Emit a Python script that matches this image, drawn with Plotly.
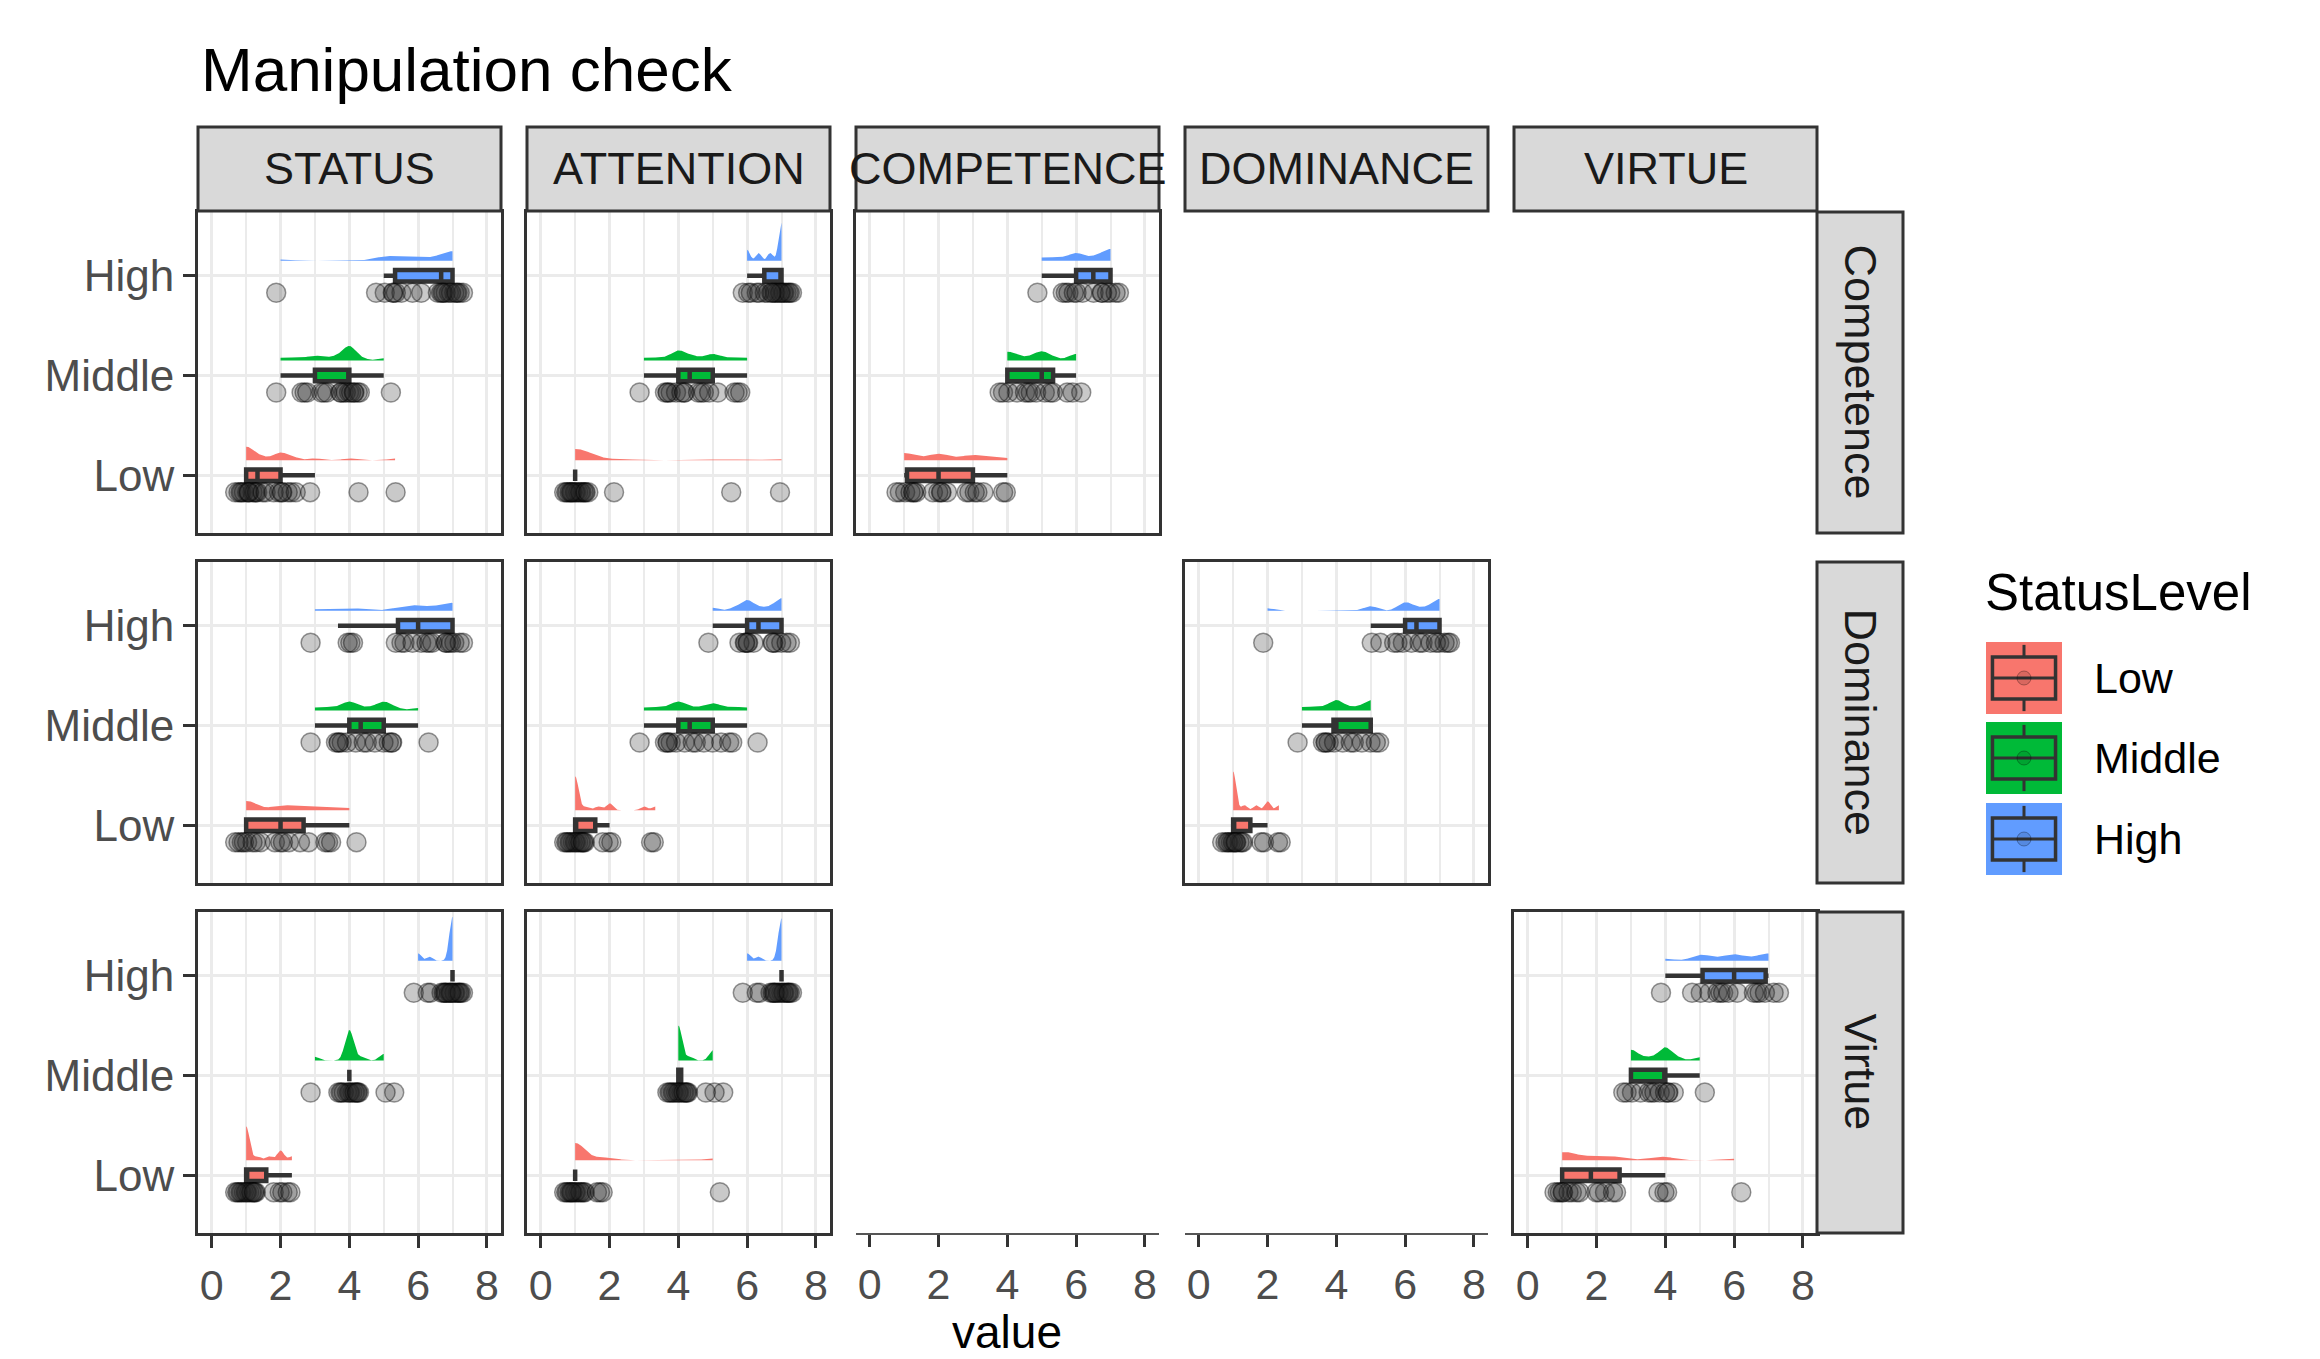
import numpy as np
import plotly.graph_objects as go

# ---------------- data ----------------
measures = ["STATUS", "ATTENTION", "COMPETENCE", "DOMINANCE", "VIRTUE"]
conditions = ["Competence", "Dominance", "Virtue"]
levels = ["Low", "Middle", "High"]
level_colors = ["#F8766D", "#00BA38", "#619CFF"]
x_ticks = [0, 2, 4, 6, 8]
x_minor = [1, 3, 5, 7]

competence_status_low = [1, 1, 1, 1, 1, 1, 1, 1, 1, 1, 1.33, 1.33, 1.33, 1.67, 2, 2, 2, 2, 2, 2.33, 2.33, 3, 4, 5.33]
competence_status_middle = [2, 2.33, 2.67, 3, 3, 3.33, 3.67, 3.67, 4, 4, 4, 4, 4, 4, 4, 4, 4.33, 5]
competence_status_high = [2, 5, 5, 5, 5.33, 5.33, 5.67, 6, 6, 6.33, 6.67, 7, 7, 7, 7, 7, 7, 7, 7, 7, 7]

competence_attention_low = [1, 1, 1, 1, 1, 1, 1, 1, 1, 1, 1, 1, 1, 1, 1, 1.33, 2.33, 5.33, 7]
competence_attention_middle = [3, 3.33, 3.67, 4, 4, 4, 4, 4, 4.33, 4.33, 4.67, 5, 5, 5, 5.33, 5.67, 6]
competence_attention_high = [6, 6, 6, 6.33, 6.33, 6.67, 6.67, 7, 7, 7, 7, 7, 7, 7, 7, 7, 7, 7, 7, 7]

competence_competence_low = [1, 1, 1, 1, 1, 1.33, 1.67, 2, 2, 2, 2, 2.33, 2.67, 3, 3, 3, 3.33, 3.67, 4]
competence_competence_middle = [4, 4, 4, 4, 4.33, 4.67, 5, 5, 5, 5, 5.33, 6, 6, 6]
competence_competence_high = [5, 5.33, 5.67, 6, 6, 6, 6.33, 6.67, 6.67, 7, 7, 7, 7, 7]

dominance_status_low = [1, 1, 1, 1, 1, 1, 1, 1.33, 2, 2, 2, 2.33, 2.67, 2.67, 3, 3.33, 3.67, 4]
dominance_status_middle = [3, 3.33, 3.67, 4, 4, 4, 4, 4.33, 4.67, 5, 5, 5, 5, 5.33, 6]
dominance_status_high = [3, 3.67, 4, 4.33, 5.33, 5.67, 5.67, 6, 6, 6, 6.33, 6.67, 6.67, 7, 7, 7, 7, 7, 7]

dominance_attention_low = [1, 1, 1, 1, 1, 1, 1, 1, 1, 1, 1, 1, 1, 1.33, 1.67, 2, 2, 3, 3.33]
dominance_attention_middle = [3, 3.33, 3.67, 4, 4, 4, 4, 4.33, 4.67, 5, 5, 5, 5.33, 5.67, 6]
dominance_attention_high = [5, 5.67, 6, 6, 6, 6, 6.33, 6.67, 7, 7, 7, 7, 7]

dominance_dominance_low = [1, 1, 1, 1, 1, 1, 1, 1, 1, 1, 1, 1.33, 1.67, 2, 2, 2.33]
dominance_dominance_middle = [3, 3.33, 3.67, 4, 4, 4, 4, 4.33, 4.67, 5, 5, 5, 5]
dominance_dominance_high = [2, 5, 5, 6, 6, 6, 6, 6.33, 6.67, 7, 7, 7, 7, 7, 7]

virtue_status_low = [1, 1, 1, 1, 1, 1, 1, 1, 1, 1, 1, 1, 1, 1.33, 1.67, 2, 2, 2, 2.33]
virtue_status_middle = [3, 4, 4, 4, 4, 4, 4, 4, 4, 4, 4, 4, 4, 4.33, 5, 5]
virtue_status_high = [6, 6, 6.33, 7, 7, 7, 7, 7, 7, 7, 7, 7, 7, 7, 7, 7, 7, 7, 7]

virtue_attention_low = [1, 1, 1, 1, 1, 1, 1, 1, 1, 1, 1, 1, 1, 1, 1.33, 1.67, 2, 5]
virtue_attention_middle = [4, 4, 4, 4, 4, 4, 4, 4, 4, 4, 4, 4, 4, 4.33, 5, 5, 5]
virtue_attention_high = [6, 6, 6.33, 7, 7, 7, 7, 7, 7, 7, 7, 7, 7, 7, 7, 7, 7, 7]

virtue_virtue_low = [1, 1, 1, 1, 1, 1, 1.33, 1.33, 1.67, 2, 2, 2.33, 2.33, 2.67, 3.67, 4, 4, 6]
virtue_virtue_middle = [3, 3, 3, 3, 3.33, 3.67, 4, 4, 4, 4, 4, 4.33, 5]
virtue_virtue_high = [4, 5, 5, 5, 5.33, 5.67, 6, 6, 6, 6.33, 6.67, 7, 7, 7, 7]

panel_data = {
    ("Competence", "STATUS"): [competence_status_low, competence_status_middle, competence_status_high],
    ("Competence", "ATTENTION"): [competence_attention_low, competence_attention_middle, competence_attention_high],
    ("Competence", "COMPETENCE"): [competence_competence_low, competence_competence_middle, competence_competence_high],
    ("Dominance", "STATUS"): [dominance_status_low, dominance_status_middle, dominance_status_high],
    ("Dominance", "ATTENTION"): [dominance_attention_low, dominance_attention_middle, dominance_attention_high],
    ("Dominance", "DOMINANCE"): [dominance_dominance_low, dominance_dominance_middle, dominance_dominance_high],
    ("Virtue", "STATUS"): [virtue_status_low, virtue_status_middle, virtue_status_high],
    ("Virtue", "ATTENTION"): [virtue_attention_low, virtue_attention_middle, virtue_attention_high],
    ("Virtue", "VIRTUE"): [virtue_virtue_low, virtue_virtue_middle, virtue_virtue_high],
}

# ---------------- layout constants ----------------
W, H = 2320, 1359
OFF = 8                       # page body margin of the html page
FW, FH = W - OFF, H - OFF     # figure size so the page does not overflow
COL_X0 = [198, 527, 856, 1185, 1514]
PANEL_W = 303
ROW_Y0 = [212, 562, 912]
PANEL_H = 321
STRIP_TOP = (127, 211)
RSTRIP_X = (1817, 1903)
XR = [-0.4, 8.41]
YR = [0.42, 3.64]
DENS_OFF = 0.15
PT_OFF = -0.17
BOX_W = 0.115
DENS_MAX_H = 0.44
DENS_POW = 0.85
ADJUST = 0.5
JIT = 0.33
FONT = "Liberation Sans, Arial, sans-serif"
DARK = "#333333"


def px(x):
    return (x - OFF) / FW


def py(y):
    return 1 - (y - OFF) / FH


def bw_nrd0(x):
    x = np.asarray(x, float)
    hi = np.std(x, ddof=1)
    q75, q25 = np.percentile(x, [75, 25])
    lo = min(hi, (q75 - q25) / 1.34)
    if not lo:
        lo = hi or abs(x[0]) or 1.0
    return 0.9 * lo * len(x) ** -0.2


def kde(x, grid):
    x = np.asarray(x, float)
    bw = ADJUST * bw_nrd0(x)
    d = (grid[:, None] - x[None, :]) / bw
    return np.exp(-0.5 * d ** 2).sum(1) / (len(x) * bw * np.sqrt(2 * np.pi))


# densities (global normalisation)
dens = {}
gmax = 0
for key, groups in panel_data.items():
    for li, vals in enumerate(groups):
        grid = np.linspace(min(vals), max(vals), 500)
        d = kde(vals, grid) ** DENS_POW
        dens[(key, li)] = (grid, d)
        gmax = max(gmax, d.max())

fig = go.Figure()
layout_axes = {}

for r, cond in enumerate(conditions):
    for c, meas in enumerate(measures):
        k = r * 5 + c + 1
        xn = "x" if k == 1 else f"x{k}"
        yn = "y" if k == 1 else f"y{k}"
        xa = "xaxis" if k == 1 else f"xaxis{k}"
        ya = "yaxis" if k == 1 else f"yaxis{k}"
        has = (cond, meas) in panel_data
        bottom = r == 2
        xd = [px(COL_X0[c]), px(COL_X0[c] + PANEL_W)]
        yd = [py(ROW_Y0[r] + PANEL_H), py(ROW_Y0[r])]
        layout_axes[xa] = dict(
            domain=xd, anchor=yn, range=XR, visible=has or bottom,
            tickmode="array", tickvals=x_ticks, ticktext=[str(t) for t in x_ticks],
            showticklabels=bottom, ticks="outside" if bottom else "",
            ticklen=12, tickwidth=3, tickcolor=DARK,
            tickfont=dict(family=FONT, size=43, color="#4d4d4d"),
            showgrid=has, gridcolor="#ebebeb", gridwidth=3,
            minor=dict(tickmode="array", tickvals=x_minor, showgrid=has,
                       gridcolor="#ebebeb", gridwidth=2),
            showline=has or bottom, mirror=True if has else False,
            linecolor=DARK if has else "#555555", linewidth=3 if has else 2,
            zeroline=False, fixedrange=True, automargin=False,
        )
        layout_axes[ya] = dict(
            domain=yd, anchor=xn, range=YR, visible=has,
            tickmode="array", tickvals=[1, 2, 3], ticktext=levels,
            showticklabels=(c == 0), ticks="outside" if c == 0 else "",
            ticklen=12, tickwidth=3, tickcolor=DARK,
            tickfont=dict(family=FONT, size=44, color="#4d4d4d"),
            showgrid=has, gridcolor="#ebebeb", gridwidth=3,
            showline=has, mirror=True, linecolor=DARK, linewidth=3,
            zeroline=False, fixedrange=True, automargin=False,
        )
        if not has:
            # empty trace so the (empty) subplot and its axis are still drawn
            fig.add_trace(go.Scatter(x=[None], y=[None], mode="markers", xaxis=xn, yaxis=yn,
                                     showlegend=False, hoverinfo="skip"))
            continue
        groups = panel_data[(cond, meas)]
        for li, vals in enumerate(groups):
            pos = li + 1
            col = level_colors[li]
            grid, d = dens[((cond, meas), li)]
            hgt = d / gmax * DENS_MAX_H
            base = pos + DENS_OFF
            fig.add_trace(go.Scatter(
                x=np.concatenate([grid, grid[::-1]]),
                y=np.concatenate([base + hgt, np.full(len(grid), base)]),
                fill="toself", fillcolor=col, mode="lines", line=dict(width=0, color=col),
                xaxis=xn, yaxis=yn, showlegend=False, hoverinfo="skip"))
            fig.add_trace(go.Box(
                x=vals, y0=pos, orientation="h", width=BOX_W, fillcolor=col,
                line=dict(color=DARK, width=4.5), whiskerwidth=0,
                boxpoints="outliers", quartilemethod="linear",
                marker=dict(opacity=0, size=1, color="rgba(0,0,0,0)"),
                xaxis=xn, yaxis=yn, showlegend=False, hoverinfo="skip"))
            n = len(vals)
            jit = [JIT * (2 * (((i + 0.5) * 0.6180339887) % 1) - 1) for i in range(n)]
            fig.add_trace(go.Scatter(
                x=[v + j for v, j in zip(vals, jit)], y=[pos + PT_OFF] * n,
                mode="markers",
                marker=dict(size=19, color="rgba(40,40,40,0.25)",
                            line=dict(color="rgba(0,0,0,0.4)", width=1.5)),
                xaxis=xn, yaxis=yn, showlegend=False, hoverinfo="skip"))

shapes = []
annotations = []

# top strips
for c, meas in enumerate(measures):
    x0, x1 = COL_X0[c], COL_X0[c] + PANEL_W
    shapes.append(dict(type="rect", xref="paper", yref="paper",
                       x0=px(x0), x1=px(x1), y0=py(STRIP_TOP[1]), y1=py(STRIP_TOP[0]),
                       fillcolor="#d9d9d9", line=dict(color=DARK, width=3), layer="above"))
    annotations.append(dict(x=px((x0 + x1) / 2), y=py(sum(STRIP_TOP) / 2), xref="paper", yref="paper",
                            text=meas, showarrow=False, xanchor="center", yanchor="middle",
                            font=dict(family=FONT, size=45, color="#1a1a1a")))
# right strips
for r, cond in enumerate(conditions):
    y0, y1 = ROW_Y0[r], ROW_Y0[r] + PANEL_H
    shapes.append(dict(type="rect", xref="paper", yref="paper",
                       x0=px(RSTRIP_X[0]), x1=px(RSTRIP_X[1]), y0=py(y1), y1=py(y0),
                       fillcolor="#d9d9d9", line=dict(color=DARK, width=3), layer="above"))
    annotations.append(dict(x=px(sum(RSTRIP_X) / 2), y=py((y0 + y1) / 2), xref="paper", yref="paper",
                            text=cond, showarrow=False, textangle=90, xanchor="center", yanchor="middle",
                            font=dict(family=FONT, size=45, color="#1a1a1a")))

# titles
annotations.append(dict(x=px(199), y=py(70), xref="paper", yref="paper", text="Manipulation check",
                        showarrow=False, xanchor="left", yanchor="middle",
                        font=dict(family=FONT, size=62, color="black")))
annotations.append(dict(x=px(1007), y=0, xref="paper", yref="paper", text="value",
                        showarrow=False, xanchor="center", yanchor="bottom", borderpad=0,
                        font=dict(family=FONT, size=46, color="black")))

# legend
annotations.append(dict(x=px(1983), y=py(592), xref="paper", yref="paper", text="StatusLevel",
                        showarrow=False, xanchor="left", yanchor="middle",
                        font=dict(family=FONT, size=51, color="black")))
key_y0 = [642, 722, 803]
KEY_X = (1986, 2062)
KEY_H = 72
for li, lev in enumerate(levels):
    y0 = key_y0[li]
    y1 = y0 + KEY_H
    kx0, kx1 = KEY_X
    kw = kx1 - kx0
    cx = (kx0 + kx1) / 2
    cy = (y0 + y1) / 2
    shapes.append(dict(type="rect", xref="paper", yref="paper", x0=px(kx0), x1=px(kx1),
                       y0=py(y1), y1=py(y0), fillcolor=level_colors[li], line=dict(width=0)))
    shapes.append(dict(type="rect", xref="paper", yref="paper", x0=px(kx0 + 0.085 * kw),
                       x1=px(kx0 + 0.915 * kw), y0=py(y0 + 0.79 * KEY_H), y1=py(y0 + 0.21 * KEY_H),
                       line=dict(color=DARK, width=3.5)))
    shapes.append(dict(type="line", xref="paper", yref="paper", x0=px(kx0 + 0.085 * kw),
                       x1=px(kx0 + 0.915 * kw), y0=py(cy), y1=py(cy), line=dict(color=DARK, width=3)))
    shapes.append(dict(type="line", xref="paper", yref="paper", x0=px(cx), x1=px(cx),
                       y0=py(y0 + 0.04 * KEY_H), y1=py(y0 + 0.21 * KEY_H), line=dict(color=DARK, width=3)))
    shapes.append(dict(type="line", xref="paper", yref="paper", x0=px(cx), x1=px(cx),
                       y0=py(y0 + 0.79 * KEY_H), y1=py(y0 + 0.96 * KEY_H), line=dict(color=DARK, width=3)))
    shapes.append(dict(type="circle", xref="paper", yref="paper", x0=px(cx - 7), x1=px(cx + 7),
                       y0=py(cy + 7), y1=py(cy - 7), line=dict(color="rgba(0,0,0,0.3)", width=1),
                       fillcolor="rgba(0,0,0,0.12)"))
    annotations.append(dict(x=px(2092), y=py(cy), xref="paper", yref="paper", text=lev,
                            showarrow=False, xanchor="left", yanchor="middle",
                            font=dict(family=FONT, size=43, color="black")))

fig.update_layout(
    width=FW, height=FH, margin=dict(l=0, r=0, t=0, b=0, autoexpand=False),
    paper_bgcolor="white", plot_bgcolor="white",
    boxmode="overlay", showlegend=False,
    shapes=shapes, annotations=annotations,
    font=dict(family=FONT),
    **layout_axes,
)

fig.write_html("out.html")
